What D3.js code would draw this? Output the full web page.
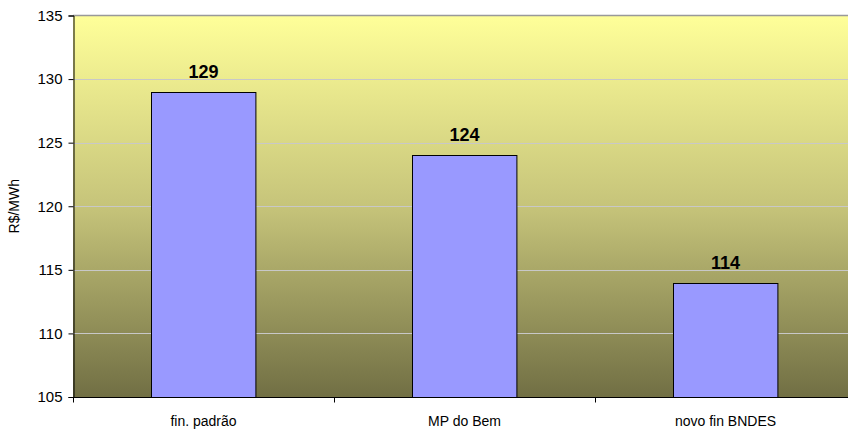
<!DOCTYPE html>
<html>
<head>
<meta charset="utf-8">
<script src="https://cdn.jsdelivr.net/npm/d3@7"></script>
<style>
  html, body { margin: 0; padding: 0; background: #fff; }
  svg { display: block; }
  text { font-family: Arial, "Liberation Sans", sans-serif; }
</style>
</head>
<body>
<svg id="chart" width="848" height="430"></svg>
<script>
// Custo da energia por cenário de financiamento
const categories = ["fin. padrão", "MP do Bem", "novo fin BNDES"];
const values = [129, 124, 114];
const yTicks = [105, 110, 115, 120, 125, 130, 135];
const yLabel = "R$/MWh";

const W = 848, H = 430;
const plot = { left: 73, right: 856, top: 15.5, bottom: 397 };

const svg = d3.select("#chart");

const x = d3.scaleBand()
  .domain(categories)
  .range([plot.left, plot.right])
  .paddingInner(0.6)
  .paddingOuter(0.3);

const xCat = d3.scaleBand()
  .domain(categories)
  .range([plot.left, plot.right]);

const y = d3.scaleLinear()
  .domain([105, 135])
  .range([plot.bottom, plot.top]);

// Background gradient of the plot area
const defs = svg.append("defs");
const grad = defs.append("linearGradient")
  .attr("id", "bg").attr("x1", 0).attr("y1", 0).attr("x2", 0).attr("y2", 1);
grad.append("stop").attr("offset", "0%").attr("stop-color", "#FFFF99");
grad.append("stop").attr("offset", "50%").attr("stop-color", "#C6C47A");
grad.append("stop").attr("offset", "100%").attr("stop-color", "#716F44");

svg.append("rect")
  .attr("x", plot.left).attr("y", plot.top)
  .attr("width", plot.right - plot.left)
  .attr("height", plot.bottom - plot.top)
  .attr("fill", "url(#bg)");

// Top border
svg.append("line")
  .attr("x1", plot.left).attr("x2", plot.right)
  .attr("y1", plot.top).attr("y2", plot.top)
  .attr("stroke", "#999").attr("stroke-width", 1.5);

// Horizontal gridlines
svg.append("g")
  .selectAll("line")
  .data(yTicks.filter(t => t > 105 && t < 135))
  .join("line")
  .attr("x1", plot.left).attr("x2", plot.right)
  .attr("y1", d => Math.round(y(d)) + 0.5)
  .attr("y2", d => Math.round(y(d)) + 0.5)
  .attr("stroke", "#C8C8C8").attr("stroke-width", 1);

// Bars
svg.append("g")
  .selectAll("rect")
  .data(values)
  .join("rect")
  .attr("x", (d, i) => Math.round(x(categories[i])) + 0.5)
  .attr("y", d => Math.round(y(d)) + 0.5)
  .attr("width", x.bandwidth())
  .attr("height", d => Math.round(y(105)) - Math.round(y(d)))
  .attr("fill", "#9999FF")
  .attr("stroke", "#000")
  .attr("stroke-width", 1);

// Value labels
svg.append("g")
  .selectAll("text")
  .data(values)
  .join("text")
  .attr("x", (d, i) => x(categories[i]) + x.bandwidth() / 2)
  .attr("y", d => y(d) - 14)
  .attr("text-anchor", "middle")
  .attr("font-size", 18)
  .attr("font-weight", "bold")
  .attr("fill", "#000")
  .text(d => d);

// Y axis
const yAxis = d3.axisLeft(y)
  .tickValues(yTicks)
  .tickSize(5)
  .tickPadding(6)
  .tickFormat(d3.format("d"));
const gy = svg.append("g")
  .attr("transform", `translate(${plot.left + 0.5},0)`)
  .call(yAxis);
gy.select(".domain").attr("stroke", "#000");
gy.selectAll(".tick line").attr("stroke", "#000");
gy.selectAll(".tick text")
  .attr("font-size", 15)
  .attr("font-family", "Arial, 'Liberation Sans', sans-serif")
  .attr("fill", "#000");

// X axis: ticks at category boundaries
const gx = svg.append("g")
  .attr("transform", `translate(0,${plot.bottom + 0.5})`);
gx.append("line")
  .attr("x1", plot.left).attr("x2", plot.right)
  .attr("stroke", "#000");
gx.selectAll("line.b")
  .data(categories)
  .join("line")
  .attr("class", "b")
  .attr("x1", d => Math.round(xCat(d)) + 0.5)
  .attr("x2", d => Math.round(xCat(d)) + 0.5)
  .attr("y1", 0).attr("y2", 5)
  .attr("stroke", "#000");
gx.selectAll("text")
  .data(categories)
  .join("text")
  .attr("x", d => xCat(d) + xCat.bandwidth() / 2)
  .attr("y", 28)
  .attr("text-anchor", "middle")
  .attr("font-size", 14)
  .attr("fill", "#000")
  .text(d => d);

// Y axis title
svg.append("text")
  .attr("transform", `translate(19,${(plot.top + plot.bottom) / 2}) rotate(-90)`)
  .attr("text-anchor", "middle")
  .attr("font-size", 14)
  .attr("fill", "#000")
  .text(yLabel);
</script>
</body>
</html>
